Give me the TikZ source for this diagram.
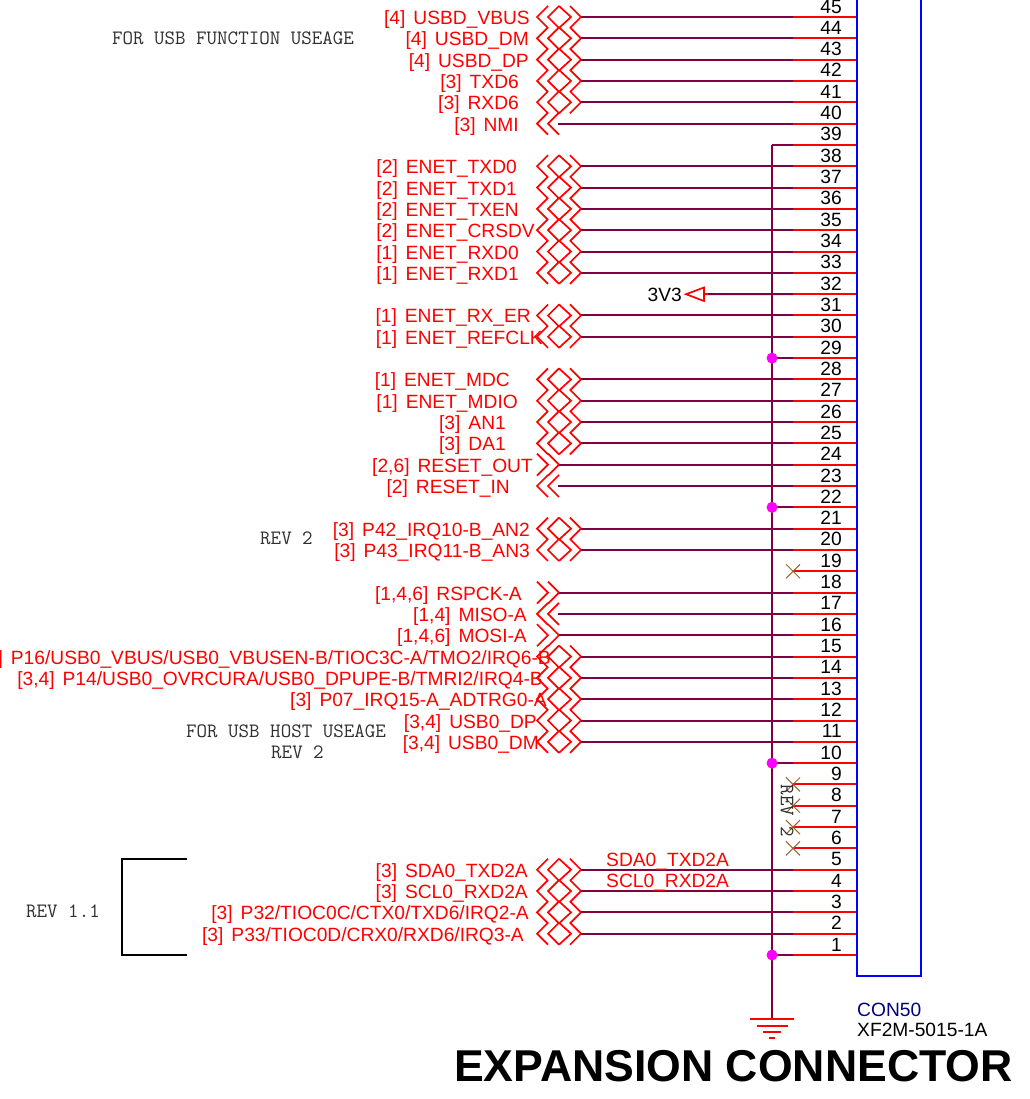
\documentclass[tikz,border=0pt]{standalone}
\usepackage{fontspec}
\setmainfont{Liberation Sans}
\setmonofont{Latin Modern Mono}
\definecolor{wirec}{HTML}{800040}
\definecolor{ncc}{HTML}{996633}
\definecolor{refc}{HTML}{000080}
\definecolor{notec}{HTML}{303030}
\definecolor{dotc}{HTML}{FF00FF}
\newcommand{\pinY}[1]{955-(#1-1)*21.318}
\tikzset{
  wire/.style={draw=wirec,line width=2pt},
  pinline/.style={draw=red,line width=2pt},
  portline/.style={draw=red,line width=1.7pt,line join=miter},
  sig/.style={text=red,font=\fontsize{19.2}{22}\selectfont,anchor=base east,inner sep=0pt},
  wirelabel/.style={text=red,font=\fontsize{19.2}{22}\selectfont,anchor=base west,inner sep=0pt},
  pinno/.style={text=black,font=\fontsize{19.2}{22}\selectfont,anchor=base east,inner sep=0pt},
  note/.style={text=notec,font=\ttfamily\fontsize{20.4}{22}\selectfont,inner sep=0pt,anchor=base},
  junction/.style={circle,fill=dotc,inner sep=0pt,minimum size=11pt},
  pics/bidir/.style={code={
    \draw[portline] (11,-11)--(0,0)--(11,11);
    \draw[portline] (22,-11)--(11,0)--(22,11);
    \draw[portline] (22,-11)--(34,0)--(22,11);
    \draw[portline] (33,-11)--(44,0)--(33,11);
    \coordinate (-end) at (44,0);}},
  pics/inport/.style={code={
    \draw[portline] (11,-11)--(0,0)--(11,11);
    \draw[portline] (22,-11)--(11,0)--(22,11);
    \coordinate (-end) at (21,0);}},
  pics/outport/.style={code={
    \draw[portline] (0,-11)--(11,0)--(0,11);
    \draw[portline] (11,-11)--(22,0)--(11,11);
    \coordinate (-end) at (22,0);}},
}
% #1 pin, #2 port pic, #3 ref, #4 name, #5 right end of text
\newcommand{\sigrow}[5]{%
  \pgfmathsetmacro{\py}{\pinY{#1}}%
  \pic (port#1) at (537,\py) {#2};
  \node[sig] (lab#1) at (#5,\py+7.5) {#3\hspace{8pt}#4};
  \draw[wire] (port#1-end) -- (mid#1);
}
\newcommand{\ncmark}[1]{%
  \draw[draw=ncc,line width=1pt] ([shift={(-7,-7)}]mid#1) -- ([shift={(7,7)}]mid#1);
  \draw[draw=ncc,line width=1pt] ([shift={(-7,7)}]mid#1) -- ([shift={(7,-7)}]mid#1);
}
\begin{document}
\begin{tikzpicture}[x=1pt,y=-1pt]
\useasboundingbox (0,0) rectangle (1029,1099);
% pin coordinates
\foreach \n in {1,...,45}{
  \pgfmathsetmacro{\py}{\pinY{\n}}
  \coordinate (pin\n) at (857,\py);
  \coordinate (mid\n) at (793,\py);
  \coordinate (bus\n) at (772,\py);
}
% connector body
\coordinate (conTL) at (857,-6);
\coordinate (conBR) at (921,976);
\coordinate (gndtop) at (772,1019);
\coordinate (bustop) at (772,145);
% signals
\sigrow{45}{bidir}{[4]}{USBD\_VBUS}{530}
\sigrow{44}{bidir}{[4]}{USBD\_DM}{529}
\sigrow{43}{bidir}{[4]}{USBD\_DP}{529}
\sigrow{42}{bidir}{[3]}{TXD6}{519}
\sigrow{41}{bidir}{[3]}{RXD6}{519}
\sigrow{40}{inport}{[3]}{NMI}{519}
\sigrow{38}{bidir}{[2]}{ENET\_TXD0}{517}
\sigrow{37}{bidir}{[2]}{ENET\_TXD1}{517}
\sigrow{36}{bidir}{[2]}{ENET\_TXEN}{519}
\sigrow{35}{bidir}{[2]}{ENET\_CRSDV}{535}
\sigrow{34}{bidir}{[1]}{ENET\_RXD0}{519}
\sigrow{33}{bidir}{[1]}{ENET\_RXD1}{519}
\sigrow{31}{bidir}{[1]}{ENET\_RX\_ER}{531}
\sigrow{30}{bidir}{[1]}{ENET\_REFCLK}{543}
\sigrow{28}{bidir}{[1]}{ENET\_MDC}{510}
\sigrow{27}{bidir}{[1]}{ENET\_MDIO}{518}
\sigrow{26}{bidir}{[3]}{AN1}{506}
\sigrow{25}{bidir}{[3]}{DA1}{506}
\sigrow{24}{outport}{[2,6]}{RESET\_OUT}{533}
\sigrow{23}{inport}{[2]}{RESET\_IN}{510}
\sigrow{21}{bidir}{[3]}{P42\_IRQ10-B\_AN2}{530}
\sigrow{20}{bidir}{[3]}{P43\_IRQ11-B\_AN3}{530}
\sigrow{18}{outport}{[1,4,6]}{RSPCK-A}{522}
\sigrow{17}{inport}{[1,4]}{MISO-A}{527}
\sigrow{16}{outport}{[1,4,6]}{MOSI-A}{527}
\sigrow{15}{bidir}{[3,4]}{P16/USB0\_VBUS/USB0\_VBUSEN-B/TIOC3C-A/TMO2/IRQ6-B}{551}
\sigrow{14}{bidir}{[3,4]}{P14/USB0\_OVRCURA/USB0\_DPUPE-B/TMRI2/IRQ4-B}{543}
\sigrow{13}{bidir}{[3]}{P07\_IRQ15-A\_ADTRG0-A}{547}
\sigrow{12}{bidir}{[3,4]}{USB0\_DP}{537}
\sigrow{11}{bidir}{[3,4]}{USB0\_DM}{539}
\sigrow{5}{bidir}{[3]}{SDA0\_TXD2A}{528}
\sigrow{4}{bidir}{[3]}{SCL0\_RXD2A}{528}
\sigrow{3}{bidir}{[3]}{P32/TIOC0C/CTX0/TXD6/IRQ2-A}{529}
\sigrow{2}{bidir}{[3]}{P33/TIOC0D/CRX0/RXD6/IRQ3-A}{524}
% ground bus
\draw[wire] (bustop) -- (gndtop);
\foreach \n in {39,29,22,10,1}{\draw[wire] (bus\n) -- (mid\n);}
% 3V3
\node[text=black,font=\fontsize{19.2}{22}\selectfont,anchor=base east,inner sep=0pt] (pwr) at (682,301) {3V3};
\coordinate (pwrtip) at (686,294.2);
\coordinate (pwrbase) at (704,294.2);
\draw[portline] (pwrtip) -- (704,287.5) -- (704,301) -- cycle;
\draw[wire] (pwrbase) -- (mid32);
% pin stubs
\foreach \n in {1,...,45}{\draw[pinline] (mid\n) -- (pin\n);}
\draw[pinline] (pwrbase) -- ++(4,0);
% no-connect marks
\ncmark{19}\ncmark{9}\ncmark{8}\ncmark{7}\ncmark{6}
% junctions
\foreach \n in {29,22,10,1}{\node[junction] (dot\n) at (bus\n) {};}
% pin numbers
\foreach \n in {1,...,45}{
  \pgfmathsetmacro{\py}{\pinY{\n}-4}
  \node[pinno] (num\n) at (842,\py) {\n};
}
% connector box
\draw[draw=blue,line width=2pt] (conTL) rectangle (conBR);
% wire labels
\node[wirelabel] (wl5) at (606,866) {SDA0\_TXD2A};
\node[wirelabel] (wl4) at (606,887) {SCL0\_RXD2A};
% ground symbol
\draw[pinline] (750,1019) -- (794,1019);
\draw[pinline] (757,1025.5) -- (788,1025.5);
\draw[pinline] (763,1032) -- (781,1032);
\draw[pinline] (769,1038) -- (775,1038);
% notes
\node[note] (n1) at (233,45) {FOR USB FUNCTION USEAGE};
\node[note] (n2) at (286.5,544) {REV 2};
\node[note] (n3) at (286,737) {FOR USB HOST USEAGE};
\node[note] (n4) at (297.5,758) {REV 2};
\node[note] (n5) at (63,917) {REV 1.1};
\node[note,rotate=-90,anchor=center] (n6) at (787,811) {REV 2};
% bracket
\draw[draw=black,line width=1.6pt] (187,859) -- (122,859) -- (122,955) -- (187,955);
% part
\node[text=refc,font=\fontsize{19.2}{22}\selectfont,anchor=base west,inner sep=0pt] (con) at (857,1016) {CON50};
\node[text=black,font=\fontsize{19.2}{22}\selectfont,anchor=base west,inner sep=0pt] (part) at (857,1036) {XF2M-5015-1A};
\node[text=black,font=\bfseries\fontsize{44.6}{50}\selectfont,anchor=base west,inner sep=0pt] (title) at (454,1081) {EXPANSION CONNECTOR};
\end{tikzpicture}
\end{document}
